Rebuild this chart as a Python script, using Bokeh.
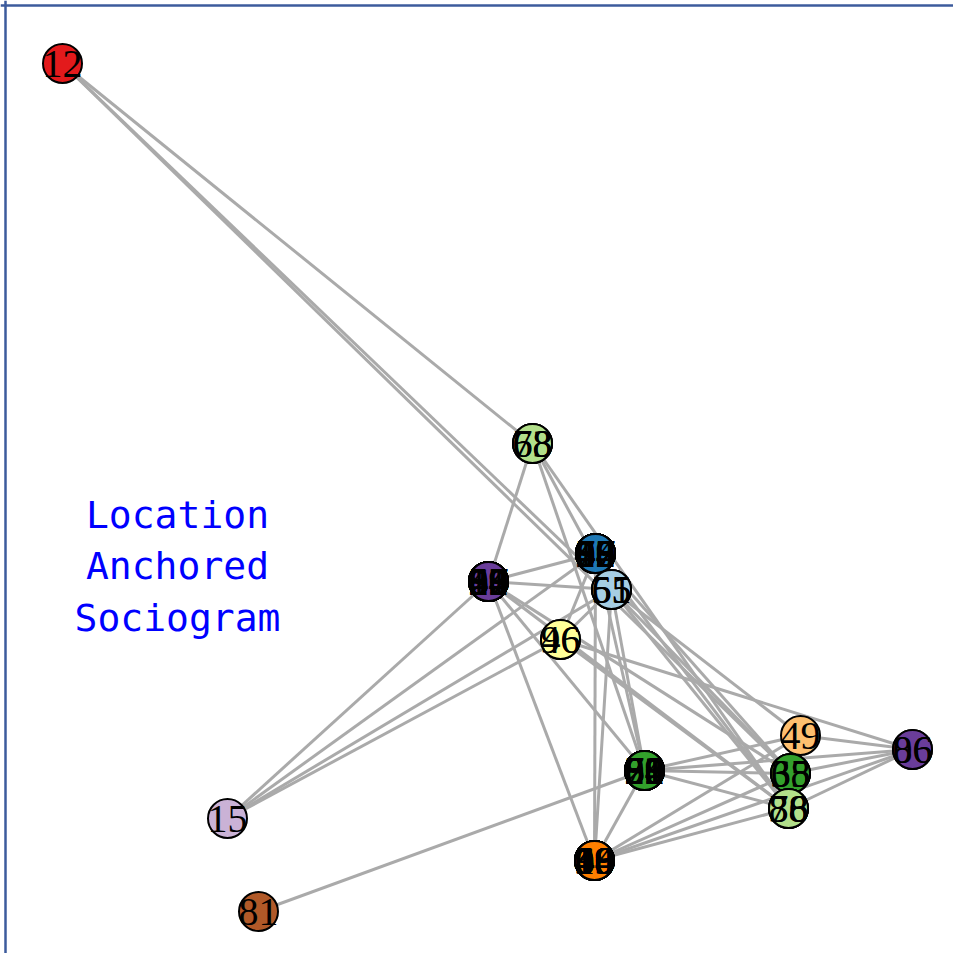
from bokeh.plotting import figure
from bokeh.models import Range1d, ColumnDataSource, Span
from bokeh.core.properties import value
from bokeh.embed import file_html
from bokeh.resources import INLINE

# Locations (layout coordinates, y grows downward) and their colours
loc_names = ["A", "B", "C", "D", "E", "F", "G", "H", "I", "J", "K", "L", "M", "N"]
loc_x = [62, 227, 258, 532, 488, 595, 611, 560, 644, 594, 800, 790, 788, 912]
loc_y = [63, 818, 911, 443, 581, 553, 589, 639, 770, 860, 735, 773, 808, 749]
loc_color = ["#E31A1C", "#CAB2D6", "#B15928", "#B2DF8A", "#6A3D9A", "#1F78B4",
             "#A6CEE3", "#FFFF99", "#33A02C", "#FF7F00", "#FDBF6F", "#33A02C",
             "#B2DF8A", "#6A3D9A"]

# People: label and the location they are anchored to
person_label = ["12", "15", "81",
                "68", "78", "63",
                "01", "24", "37", "52", "89", "08", "66", "90", "43", "57",
                "20", "84", "69", "13",
                "05", "23", "48", "77", "92", "08", "86", "30", "64", "59",
                "02", "83", "47", "16",
                "51", "65", "55",
                "46", "96",
                "31", "21", "91", "60", "88", "08", "36", "54", "29", "73",
                "80", "62",
                "10", "40", "18", "99", "00", "48", "90", "66", "19", "44",
                "98", "60",
                "49",
                "35", "65", "38",
                "78", "38", "86",
                "06", "86"]
person_loc = ["A", "B", "C",
              "D", "D", "D",
              "E", "E", "E", "E", "E", "E", "E", "E", "E", "E",
              "E", "E", "E", "E",
              "F", "F", "F", "F", "F", "F", "F", "F", "F", "F",
              "F", "F", "F", "F",
              "G", "G", "G",
              "H", "H",
              "I", "I", "I", "I", "I", "I", "I", "I", "I", "I",
              "I", "I",
              "J", "J", "J", "J", "J", "J", "J", "J", "J", "J",
              "J", "J",
              "K",
              "L", "L", "L",
              "M", "M", "M",
              "N", "N"]

# Ties between locations
edge_from = ["A", "A", "A", "B", "B", "B", "B", "C",
             "D", "D", "D", "D", "E", "E", "E", "E", "E", "E",
             "F", "F", "F", "F", "F", "F", "G", "G", "G", "G", "G",
             "H", "H", "H", "I", "I", "I", "I", "I",
             "J", "J", "J", "J", "L", "M", "K"]
edge_to = ["D", "G", "L", "E", "F", "G", "H", "I",
           "E", "G", "I", "M", "F", "G", "I", "J", "M", "L",
           "G", "H", "I", "M", "L", "J", "I", "J", "L", "M", "K",
           "G", "N", "M", "L", "M", "N", "J", "K",
           "K", "L", "M", "N", "N", "N", "N"]

title_text = "Location\nAnchored\nSociogram"

pos = {n: (x, y) for n, x, y in zip(loc_names, loc_x, loc_y)}
col = {n: c for n, c in zip(loc_names, loc_color)}

p = figure(width=953, height=953, output_backend="svg", toolbar_location=None,
           x_range=Range1d(0, 953), y_range=Range1d(953, 0), min_border=0)
p.axis.visible = False
p.grid.visible = False
p.outline_line_color = None
p.add_layout(Span(location=5, dimension="height", line_color="#3C5B9C", line_width=2.5))
p.add_layout(Span(location=5, dimension="width", line_color="#3C5B9C", line_width=2.5))

esrc = ColumnDataSource(dict(
    x0=[pos[a][0] for a in edge_from], y0=[pos[a][1] for a in edge_from],
    x1=[pos[b][0] for b in edge_to], y1=[pos[b][1] for b in edge_to]))
p.segment("x0", "y0", "x1", "y1", source=esrc, line_color="#AAAAAA", line_width=3)

nsrc = ColumnDataSource(dict(
    x=[pos[l][0] for l in person_loc], y=[pos[l][1] for l in person_loc],
    c=[col[l] for l in person_loc], t=person_label))
p.scatter("x", "y", source=nsrc, size=39, fill_color="c", line_color="black",
          line_width=2)
p.text("x", "y", text="t", source=nsrc, text_font=value("Liberation Serif"),
       text_font_size="40px", text_color="black", text_align="center",
       text_baseline="middle")

p.text(x=[177], y=[566], text=[title_text], text_font=value("DejaVu Sans Mono"),
       text_font_size="38px", text_color="blue", text_align="center",
       text_baseline="middle", text_line_height=1.16)

open("out.html", "w").write(file_html(p, INLINE))
